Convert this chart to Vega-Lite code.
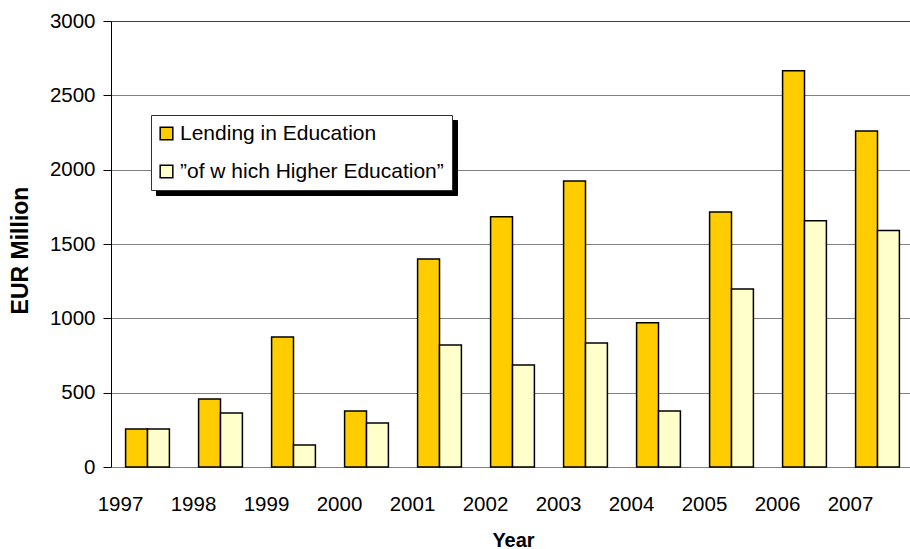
{
  "$schema": "https://vega.github.io/schema/vega-lite/v6.json",
  "width": 799,
  "height": 446,
  "autosize": {"type": "none"},
  "padding": {"left": 111, "top": 21, "right": 0, "bottom": 82},
  "background": "white",
  "config": {"view": {"stroke": null}, "font": "Liberation Sans"},
  "data": {
    "values": [
      {"year": "1997", "series": "Lending in Education", "value": 255},
      {"year": "1997", "series": "”of w hich Higher Education”", "value": 255},
      {"year": "1998", "series": "Lending in Education", "value": 457},
      {"year": "1998", "series": "”of w hich Higher Education”", "value": 363},
      {"year": "1999", "series": "Lending in Education", "value": 874},
      {"year": "1999", "series": "”of w hich Higher Education”", "value": 148},
      {"year": "2000", "series": "Lending in Education", "value": 377},
      {"year": "2000", "series": "”of w hich Higher Education”", "value": 296},
      {"year": "2001", "series": "Lending in Education", "value": 1399},
      {"year": "2001", "series": "”of w hich Higher Education”", "value": 821},
      {"year": "2002", "series": "Lending in Education", "value": 1684},
      {"year": "2002", "series": "”of w hich Higher Education”", "value": 686},
      {"year": "2003", "series": "Lending in Education", "value": 1924},
      {"year": "2003", "series": "”of w hich Higher Education”", "value": 834},
      {"year": "2004", "series": "Lending in Education", "value": 971},
      {"year": "2004", "series": "”of w hich Higher Education”", "value": 377},
      {"year": "2005", "series": "Lending in Education", "value": 1715},
      {"year": "2005", "series": "”of w hich Higher Education”", "value": 1197},
      {"year": "2006", "series": "Lending in Education", "value": 2666},
      {"year": "2006", "series": "”of w hich Higher Education”", "value": 1657},
      {"year": "2007", "series": "Lending in Education", "value": 2260},
      {"year": "2007", "series": "”of w hich Higher Education”", "value": 1590}
    ]
  },
  "mark": {"type": "bar", "stroke": "black", "strokeWidth": 1.5},
  "encoding": {
    "x": {
      "field": "year",
      "type": "nominal",
      "scale": {"range": [0, 803], "paddingInner": 0.4, "paddingOuter": 0.2},
      "axis": {
        "labelAngle": 0,
        "labelFontSize": 20.5,
        "labelColor": "black",
        "labelBaseline": "alphabetic",
        "labelPadding": 43,
        "labelOffset": -27,
        "ticks": false,
        "tickSize": 0,
        "domain": false,
        "grid": false,
        "title": "Year",
        "titleFontSize": 20,
        "titleFontWeight": "bold",
        "titleColor": "black",
        "titleBaseline": "alphabetic",
        "titleX": 402,
        "titleY": 79
      }
    },
    "xOffset": {
      "field": "series",
      "type": "nominal",
      "sort": ["Lending in Education", "”of w hich Higher Education”"],
      "scale": {"paddingInner": 0, "paddingOuter": 0}
    },
    "y": {
      "field": "value",
      "type": "quantitative",
      "scale": {"domain": [0, 3000], "nice": false},
      "axis": {
        "values": [0, 500, 1000, 1500, 2000, 2500, 3000],
        "format": "d",
        "labelFontSize": 20.5,
        "labelColor": "black",
        "labelPadding": 8,
        "tickSize": 8,
        "tickColor": "black",
        "domainColor": "black",
        "domainWidth": 1,
        "grid": true,
        "gridColor": {"condition": {"test": "datum.value === 3000", "value": "#404040"}, "value": "#808080"},
        "gridOpacity": 1,
        "title": "EUR Million",
        "titleFontSize": 23,
        "titleFontWeight": "bold",
        "titleColor": "black",
        "titleAngle": 270,
        "titleAlign": "center",
        "titleBaseline": "alphabetic",
        "titleX": -84,
        "titleY": 229
      }
    },
    "color": {
      "field": "series",
      "type": "nominal",
      "scale": {
        "domain": ["Lending in Education", "”of w hich Higher Education”"],
        "range": ["#FFCC00", "#FFFFCC"]
      },
      "legend": {
        "orient": "none",
        "legendX": 40,
        "legendY": 94,
        "title": null,
        "fillColor": "white",
        "strokeColor": "#303030",
        "padding": 8,
        "symbolType": "square",
        "symbolSize": 160,
        "symbolOffset": -3,
        "symbolStrokeColor": "black",
        "symbolStrokeWidth": 1.5,
        "symbolOpacity": 1,
        "labelFontSize": 21,
        "labelColor": "black",
        "labelLimit": 400,
        "rowPadding": 16,
        "labelOffset": 3,
        "zindex": 2
      }
    },
    "opacity": {
      "field": "series",
      "type": "nominal",
      "scale": {
        "domain": ["”of w hich Higher Education”", "Lending in Education"],
        "range": [1, 1]
      },
      "legend": {
        "orient": "none",
        "legendX": 45,
        "legendY": 99,
        "title": null,
        "fillColor": "black",
        "strokeColor": "black",
        "padding": 8,
        "symbolType": "square",
        "symbolSize": 160,
        "symbolOffset": -3,
        "symbolFillColor": "black",
        "symbolStrokeColor": "black",
        "symbolStrokeWidth": 1.5,
        "labelFontSize": 21,
        "labelColor": "black",
        "labelLimit": 400,
        "rowPadding": 16,
        "labelOffset": 3,
        "zindex": 1
      }
    }
  }
}
